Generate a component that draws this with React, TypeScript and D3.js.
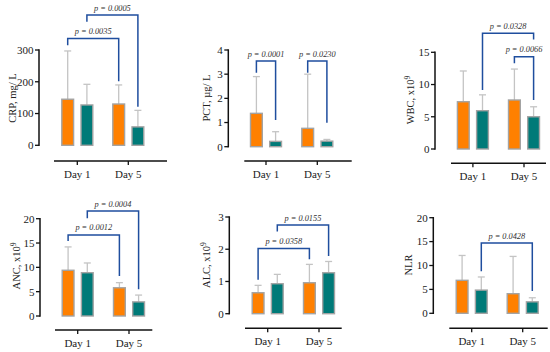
import React from "react";
import * as d3 from "d3";

const days = ["Day 1", "Day 5"];

// CRP
const crpOrange = [145, 130];
const crpTeal = [127, 58];
const crpOrangeErr = [297, 190];
const crpTealErr = [192, 110];
const crpTicks = [0, 100, 200, 300];
// PCT
const pctOrange = [1.38, 0.76];
const pctTeal = [0.22, 0.23];
const pctOrangeErr = [2.9, 3.0];
const pctTealErr = [0.62, 0.3];
const pctTicks = [0, 1, 2, 3, 4];
// WBC
const wbcOrange = [7.33, 7.6];
const wbcTeal = [5.94, 5.0];
const wbcOrangeErr = [12.1, 12.4];
const wbcTealErr = [8.4, 6.55];
const wbcTicks = [0, 5, 10, 15];
// ANC
const ancOrange = [9.4, 5.8];
const ancTeal = [8.9, 2.9];
const ancOrangeErr = [14.2, 6.85];
const ancTealErr = [10.9, 4.3];
const ancTicks = [0, 5, 10, 15, 20];
// ALC
const alcOrange = [0.65, 0.96];
const alcTeal = [0.93, 1.27];
const alcOrangeErr = [0.88, 1.53];
const alcTealErr = [1.22, 1.62];
const alcTicks = [0, 1, 2, 3];
// NLR
const nlrOrange = [6.9, 4.1];
const nlrTeal = [4.85, 2.4];
const nlrOrangeErr = [12.1, 11.9];
const nlrTealErr = [7.6, 3.25];
const nlrTicks = [0, 5, 10, 15, 20];

// brackets: [fromDay, fromSeries, toDay, toSeries, level, leftEnd, rightEnd, text]
type Br = [number, number, number, number, number, number, number, string];
const crpBrackets: Br[] = [
  [0, 0, 1, 0, 336, 315, 202, "p = 0.0035"],
  [0, 1, 1, 1, 410, 389, 121, "p = 0.0005"],
];
const pctBrackets: Br[] = [
  [0, 0, 0, 1, 3.54, 3.06, 1.1, "p = 0.0001"],
  [1, 0, 1, 1, 3.54, 3.06, 0.99, "p = 0.0230"],
];
const wbcBrackets: Br[] = [
  [0, 1, 1, 1, 17.94, 9.15, 17.0, "p = 0.0328"],
  [1, 0, 1, 1, 14.31, 13.29, 7.6, "p = 0.0066"],
];
const ancBrackets: Br[] = [
  [0, 0, 1, 0, 16.65, 15.42, 8.22, "p = 0.0012"],
  [0, 1, 1, 1, 21.58, 20.08, 5.49, "p = 0.0004"],
];
const alcBrackets: Br[] = [
  [0, 0, 1, 0, 2.02, 1.05, 1.69, "p = 0.0358"],
  [0, 1, 1, 1, 2.75, 2.55, 1.79, "p = 0.0155"],
];
const nlrBrackets: Br[] = [
  [0, 1, 1, 1, 14.7, 8.8, 4.65, "p = 0.0428"],
];

const ORANGE = "#FF8000";
const TEAL = "#007A78";
const BLUE = "#1F4E9E";
const FONT = "'Liberation Serif', 'DejaVu Serif', serif";

interface Layout {
  ax: number; yTop: number; yBot: number; xAxisY: number; x1: number; x2: number;
  t1: number; t2: number; lx: number; ly: number;
}

const panels = [
  { label: "CRP, mg/ L", sup: "", orange: crpOrange, teal: crpTeal, oErr: crpOrangeErr, tErr: crpTealErr, ticks: crpTicks, br: crpBrackets,
    lay: { ax: 39, yTop: 50, yBot: 145.3, xAxisY: 161, x1: 54, x2: 167, t1: 77.3, t2: 128.3, lx: 12, ly: 98 } },
  { label: "PCT, µg/ L", sup: "", orange: pctOrange, teal: pctTeal, oErr: pctOrangeErr, tErr: pctTealErr, ticks: pctTicks, br: pctBrackets,
    lay: { ax: 228.3, yTop: 50, yBot: 146.7, xAxisY: 161, x1: 244.3, x2: 351.7, t1: 266, t2: 317.3, lx: 206, ly: 98 } },
  { label: "WBC, x10", sup: "9", orange: wbcOrange, teal: wbcTeal, oErr: wbcOrangeErr, tErr: wbcTealErr, ticks: wbcTicks, br: wbcBrackets,
    lay: { ax: 435, yTop: 52.3, yBot: 149, xAxisY: 163.3, x1: 451, x2: 546, t1: 472.9, t2: 524, lx: 410, ly: 100 } },
  { label: "ANC, x10", sup: "9", orange: ancOrange, teal: ancTeal, oErr: ancOrangeErr, tErr: ancTealErr, ticks: ancTicks, br: ancBrackets,
    lay: { ax: 40, yTop: 218.7, yBot: 316, xAxisY: 330, x1: 55, x2: 152.3, t1: 77.7, t2: 129, lx: 16, ly: 266 } },
  { label: "ALC, x10", sup: "9", orange: alcOrange, teal: alcTeal, oErr: alcOrangeErr, tErr: alcTealErr, ticks: alcTicks, br: alcBrackets,
    lay: { ax: 229.3, yTop: 217, yBot: 313.7, xAxisY: 328.3, x1: 245, x2: 341.7, t1: 267.7, t2: 319, lx: 206, ly: 265 } },
  { label: "NLR", sup: "", orange: nlrOrange, teal: nlrTeal, oErr: nlrOrangeErr, tErr: nlrTealErr, ticks: nlrTicks, br: nlrBrackets,
    lay: { ax: 433.3, yTop: 217.7, yBot: 313.3, xAxisY: 328.3, x1: 449.3, x2: 547.7, t1: 471.7, t2: 522.7, lx: 408, ly: 265 } },
];

const OFF = 9.6;
const BW = 11.8;

function Panel({ p }: { p: typeof panels[number] }) {
  const L: Layout = p.lay;
  const max = p.ticks[p.ticks.length - 1];
  const y = d3.scaleLinear().domain([0, max]).range([L.yBot, L.yTop]);
  const xDay = d3.scalePoint<string>().domain(days).range([L.t1, L.t2]);
  const cx = (g: number, s: number) => (xDay(days[g]) as number) + (s === 0 ? -OFF : OFF);
  const series = [
    { vals: p.orange, err: p.oErr, color: ORANGE },
    { vals: p.teal, err: p.tErr, color: TEAL },
  ];
  return (
    <g>
      {/* error bars */}
      {series.map((s, si) =>
        days.map((d, gi) => {
          const c = cx(gi, si);
          return (
            <g key={`e${si}${gi}`} stroke="#C4C4C4" strokeWidth={1.3}>
              <line x1={c} x2={c} y1={y(s.vals[gi])} y2={y(s.err[gi])} />
              <line x1={c - 3.5} x2={c + 3.5} y1={y(s.err[gi])} y2={y(s.err[gi])} />
            </g>
          );
        })
      )}
      {/* bars */}
      {series.map((s, si) =>
        days.map((d, gi) => {
          const c = cx(gi, si);
          return (
            <rect key={`b${si}${gi}`} x={c - BW / 2} y={y(s.vals[gi])} width={BW}
              height={y(0) - y(s.vals[gi])} fill={s.color} stroke="#A3A3A3" strokeWidth={1.4} />
          );
        })
      )}
      {/* y axis */}
      <line x1={L.ax} x2={L.ax} y1={y(max) - 0.7} y2={y(0) + 0.7} stroke="#111" strokeWidth={1.5} />
      {p.ticks.map((t) => (
        <g key={`t${t}`}>
          <line x1={L.ax - 4} x2={L.ax} y1={y(t)} y2={y(t)} stroke="#111" strokeWidth={1.3} />
          <text x={L.ax - 5.5} y={y(t)} dy="0.35em" textAnchor="end" fontSize={11} fontFamily={FONT} fill="#222">{t}</text>
        </g>
      ))}
      {/* x axis */}
      <line x1={L.x1} x2={L.x2} y1={L.xAxisY} y2={L.xAxisY} stroke="#111" strokeWidth={1.5} />
      {days.map((d) => (
        <g key={d}>
          <line x1={xDay(d)} x2={xDay(d)} y1={L.xAxisY} y2={L.xAxisY + 4} stroke="#111" strokeWidth={1.3} />
          <text x={xDay(d)} y={L.xAxisY + 17} textAnchor="middle" fontSize={11} fontFamily={FONT} fill="#222">{d}</text>
        </g>
      ))}
      {/* y label */}
      <text transform={`translate(${L.lx},${L.ly}) rotate(-90)`} textAnchor="middle" dy="0.35em"
        fontSize={10.5} fontFamily={FONT} fill="#222">
        {p.label}
        {p.sup ? <tspan fontSize={7.5} dy="-4">{p.sup}</tspan> : null}
      </text>
      {/* brackets */}
      {p.br.map((b, i) => {
        const xa = cx(b[0], b[1]);
        const xb = cx(b[2], b[3]);
        const yl = y(b[4]);
        return (
          <g key={`br${i}`}>
            <path d={`M${xa},${y(b[5])}V${yl}H${xb}V${y(b[6])}`} fill="none" stroke={BLUE} strokeWidth={1.5} />
            <text x={(xa + xb) / 2} y={yl - 4.5} textAnchor="middle" fontSize={8.3} fontStyle="italic"
              fontFamily={FONT} fill="#333">{b[7]}</text>
          </g>
        );
      })}
    </g>
  );
}

export default function App() {
  return (
    <svg width={550} height={352} style={{ position: "absolute", left: 0, top: 0, background: "#fff" }}>
      <rect width={550} height={352} fill="#fff" />
      {panels.map((p, i) => <Panel key={i} p={p} />)}
    </svg>
  );
}
